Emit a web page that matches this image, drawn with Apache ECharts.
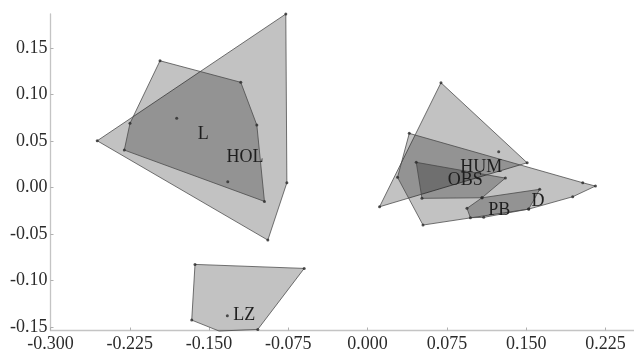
<!DOCTYPE html>
<html>
<head>
<meta charset="utf-8">
<script src="https://cdn.jsdelivr.net/npm/echarts@6/dist/echarts.min.js"></script>
<style>
html,body{margin:0;padding:0;background:#fff;}
#c{width:634px;height:354px;}
</style>
</head>
<body>
<div id="c"></div>
<script>
// Tick labels
const xTicks = [-0.3, -0.225, -0.15, -0.075, 0, 0.075, 0.15, 0.225];
const yTicks = [-0.15, -0.1, -0.05, 0, 0.05, 0.1, 0.15];

// Convex hull vertices of each group
const holHull = [[-0.2558,0.0504],[-0.0774,0.1870],[-0.0764,0.0052],[-0.0944,-0.0566]];
const lHull   = [[-0.1964,0.1366],[-0.1200,0.1134],[-0.1048,0.0673],[-0.0976,-0.0149],[-0.2302,0.0404],[-0.2248,0.0692]];
const lzHull  = [[-0.1633,-0.0828],[-0.0600,-0.0871],[-0.1039,-0.1528],[-0.1405,-0.1546],[-0.1664,-0.1428]];
const humHull = [[0.0694,0.1129],[0.1509,0.0267],[0.0113,-0.0207]];
const dHull   = [[0.0394,0.0584],[0.2035,0.0052],[0.2155,0.0016],[0.1940,-0.0099],[0.1524,-0.0232],[0.0524,-0.0404],[0.0283,0.0110]];
const obsHull = [[0.0460,0.0272],[0.1303,0.0102],[0.1082,-0.0110],[0.0514,-0.0116]];
const pbHull  = [[0.1082,-0.0110],[0.1628,-0.0019],[0.1524,-0.0232],[0.1098,-0.0321],[0.0972,-0.0325],[0.0940,-0.0224]];

// Interior (non-hull) points
const innerPoints = [[-0.1323,0.0063],[-0.1806,0.0746],[-0.1327,-0.1381],[0.1240,0.0386]];

// Group labels
const labelNames = ['L', 'HOL', 'LZ', 'HUM', 'OBS', 'PB', 'D'];
const labelX = [-0.1554, -0.1161, -0.1167, 0.1076, 0.0924, 0.1246, 0.1611];
const labelY = [0.0574, 0.0323, -0.1373, 0.0221, 0.0081, -0.0242, -0.0145];

const hulls = [holHull, lHull, lzHull, humHull, dHull, obsHull, pbHull];

const FONT = '"Liberation Serif", "Times New Roman", serif';

const chart = echarts.init(document.getElementById('c'), null, {renderer: 'canvas'});

const allPoints = [];
hulls.forEach(h => h.forEach(p => allPoints.push(p)));
innerPoints.forEach(p => allPoints.push(p));

chart.setOption({
  animation: false,
  backgroundColor: '#fff',
  grid: {left: 50.5, right: 0, top: 14, bottom: 23.5, containLabel: false},
  xAxis: {
    type: 'value', min: -0.3, max: 0.252,
    axisLine: {onZero: false, lineStyle: {color: '#c4c4c4', width: 1.3}},
    axisTick: {show: true, inside: true, length: 3, customValues: xTicks, lineStyle: {color: '#b0b0b0'}},
    axisLabel: {customValues: xTicks, formatter: v => Number(v).toFixed(3), fontFamily: FONT, fontSize: 18, color: '#2b2b2b', margin: 5},
    splitLine: {show: false}
  },
  yAxis: {
    type: 'value', min: -0.154, max: 0.187,
    axisLine: {show: true, onZero: false, lineStyle: {color: '#c4c4c4', width: 1.3}},
    axisTick: {show: true, inside: true, length: 3, customValues: yTicks, lineStyle: {color: '#b0b0b0'}},
    axisLabel: {customValues: yTicks, formatter: v => Number(v).toFixed(2), fontFamily: FONT, fontSize: 18, color: '#2b2b2b', margin: 3},
    splitLine: {show: false}
  },
  series: [
    {
      type: 'custom',
      coordinateSystem: 'cartesian2d',
      clip: false,
      data: hulls.map((h, i) => [h[0][0], h[0][1], i]),
      renderItem: function (params, api) {
        const hull = hulls[api.value(2)];
        const pts = hull.map(p => api.coord(p));
        return {
          type: 'polygon',
          shape: {points: pts},
          style: {fill: 'rgba(0,0,0,0.24)', stroke: 'rgba(70,70,70,0.75)', lineWidth: 1}
        };
      },
      z: 1
    },
    {
      type: 'scatter',
      data: allPoints,
      symbolSize: 3,
      itemStyle: {color: '#2a2a2a'},
      z: 2
    },
    {
      type: 'custom',
      coordinateSystem: 'cartesian2d',
      clip: false,
      data: labelNames.map((n, i) => [labelX[i], labelY[i], i]),
      renderItem: function (params, api) {
        const p = api.coord([api.value(0), api.value(1)]);
        return {
          type: 'text',
          x: p[0], y: p[1],
          style: {
            text: labelNames[api.value(2)],
            align: 'center', verticalAlign: 'middle',
            font: '18px ' + FONT,
            fill: '#1e1e1e'
          }
        };
      },
      z: 3
    }
  ]
});
</script>
</body>
</html>
